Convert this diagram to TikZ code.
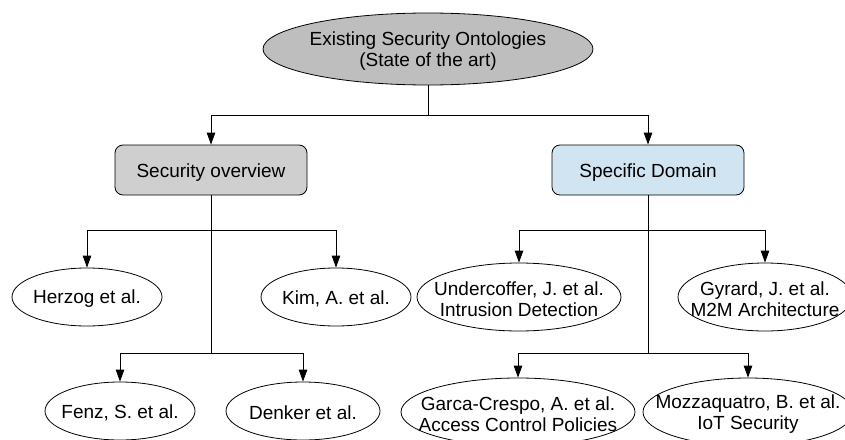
\documentclass[tikz,border=0pt]{standalone}
\usepackage{fontspec}
\setmainfont{Liberation Sans}
\usetikzlibrary{shapes.geometric,arrows.meta}
\definecolor{rootgray}{HTML}{BEBEBE}
\definecolor{boxgray}{HTML}{CFCFCF}
\definecolor{boxblue}{HTML}{D0E4F2}
\begin{document}
\begin{tikzpicture}[x=1pt,y=-1pt,
  font=\fontsize{19}{21}\selectfont,
  every node/.style={align=center,inner sep=0pt,line width=0.8pt},
  % fixed-size ellipse; the text is a centred label so it may run past the outline
  oval/.style={ellipse,draw,fill=white,label={[align=center,yshift=-2pt]center:#1}},
  catbox/.style={draw,rounded corners=8pt,minimum width=192pt,minimum height=50pt,
    label={[yshift=-3pt]center:#1}},
  link/.style={line width=0.9pt},
  arr/.style={link,-{Triangle[length=12pt,width=8.5pt]}}]
\useasboundingbox (0,0) rectangle (845,439);
\clip (0,0) rectangle (845,439);

% root
\node[ellipse,draw,fill=rootgray,minimum width=330pt,minimum height=72pt] (root) at (428,49)
  {};
\node (rootT) at ([yshift=-2pt]root.center) {Existing Security Ontologies\\(State of the art)};

% categories
\node[catbox={Security overview},fill=boxgray] (sec) at (211,170) {};
\node[catbox={Specific Domain},fill=boxblue] (spec) at (648,170) {};

% leaves under "Security overview"
\node[oval={Herzog et al.},minimum width=150pt,minimum height=58pt] (herzog) at (87,297) {};
\node[oval={Kim, A. et al.},minimum width=150pt,minimum height=58pt] (kim) at (336,297) {};
\node[oval={Fenz, S. et al.},minimum width=150pt,minimum height=58pt] (fenz) at (120,411) {};
\node[oval={Denker et al.},minimum width=154pt,minimum height=58pt] (denker) at (303,411) {};

% leaves under "Specific Domain"
\node[oval={Undercoffer, J. et al.\\Intrusion Detection},minimum width=204pt,minimum height=68pt] (under) at (519,297) {};
\node[oval={Gyrard, J. et al.\\M2M Architecture},minimum width=174pt,minimum height=68pt] (gyrard) at (765,297) {};
\node[oval={Garca-Crespo, A. et al.\\Access Control Policies},minimum width=234pt,minimum height=68pt] (garca) at (518,412) {};
\node[oval={Mozzaquatro, B. et al.\\IoT Security},minimum width=210pt,minimum height=68pt] (mozz) at (748,412) {};

% junction points
\coordinate (j0) at (428,115);
\coordinate (j1) at (211,230);
\coordinate (j2) at (211,353);
\coordinate (j3) at (648,230);
\coordinate (j4) at (648,353);

% connectors
\draw[link] (root) -- (j0);
\draw[arr] (j0) -| (sec);
\draw[arr] (j0) -| (spec);

\draw[link] (sec) -- (j2);
\draw[arr] (j1) -| (herzog);
\draw[arr] (j1) -| (kim);
\draw[arr] (j2) -| (fenz);
\draw[arr] (j2) -| (denker);

\draw[link] (spec) -- (j4);
\draw[arr] (j3) -| (under);
\draw[arr] (j3) -| (gyrard);
\draw[arr] (j4) -| (garca);
\draw[arr] (j4) -| (mozz);
\end{tikzpicture}
\end{document}
